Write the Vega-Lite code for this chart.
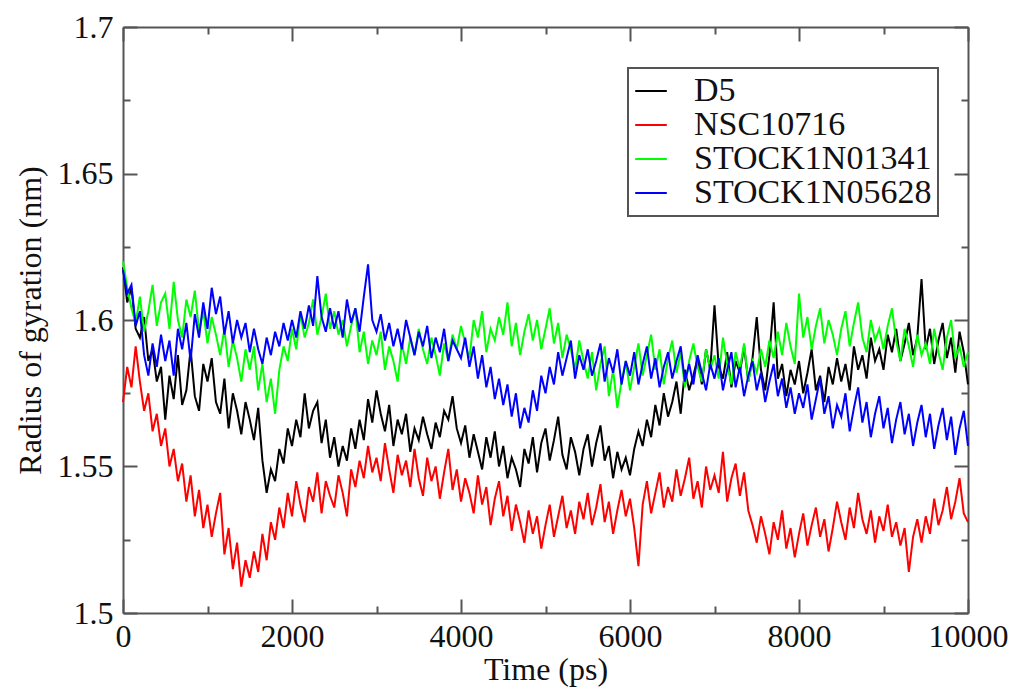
{
"$schema": "https://vega.github.io/schema/vega-lite/v6.json",
"width": 845, "height": 586,
"autosize": {"type": "none"},
"padding": {"left": 123, "top": 27, "right": 51, "bottom": 80},
"background": "white",
"config": {
  "view": {"stroke": null},
  "axis": {"domainColor": "#555", "domainWidth": 2, "tickColor": "#555", "tickWidth": 2, "grid": false,
    "labelFont": "Liberation Serif, Times New Roman, serif", "labelFontSize": 32, "labelColor": "#111",
    "titleFont": "Liberation Serif, Times New Roman, serif", "titleFontSize": 32, "titleFontWeight": "normal", "titleColor": "#111",
    "labelFlush": false, "labelOverlap": false}
},
"data": {"values": [
{"t":0,"D5":1.618,"NSC10716":1.572,"STOCK1N01341":1.620,"STOCK1N05628":1.617},
{"t":50,"D5":1.606,"NSC10716":1.584,"STOCK1N01341":1.611,"STOCK1N05628":1.609},
{"t":100,"D5":1.611,"NSC10716":1.577,"STOCK1N01341":1.604,"STOCK1N05628":1.612},
{"t":150,"D5":1.597,"NSC10716":1.591,"STOCK1N01341":1.599,"STOCK1N05628":1.598},
{"t":200,"D5":1.594,"NSC10716":1.579,"STOCK1N01341":1.608,"STOCK1N05628":1.603},
{"t":250,"D5":1.601,"NSC10716":1.569,"STOCK1N01341":1.596,"STOCK1N05628":1.588},
{"t":300,"D5":1.586,"NSC10716":1.575,"STOCK1N01341":1.603,"STOCK1N05628":1.581},
{"t":350,"D5":1.590,"NSC10716":1.562,"STOCK1N01341":1.612,"STOCK1N05628":1.592},
{"t":400,"D5":1.579,"NSC10716":1.568,"STOCK1N01341":1.598,"STOCK1N05628":1.584},
{"t":450,"D5":1.584,"NSC10716":1.557,"STOCK1N01341":1.606,"STOCK1N05628":1.595},
{"t":500,"D5":1.566,"NSC10716":1.563,"STOCK1N01341":1.609,"STOCK1N05628":1.586},
{"t":550,"D5":1.581,"NSC10716":1.550,"STOCK1N01341":1.597,"STOCK1N05628":1.593},
{"t":600,"D5":1.573,"NSC10716":1.556,"STOCK1N01341":1.613,"STOCK1N05628":1.581},
{"t":650,"D5":1.588,"NSC10716":1.545,"STOCK1N01341":1.600,"STOCK1N05628":1.597},
{"t":700,"D5":1.571,"NSC10716":1.551,"STOCK1N01341":1.594,"STOCK1N05628":1.590},
{"t":750,"D5":1.576,"NSC10716":1.538,"STOCK1N01341":1.607,"STOCK1N05628":1.599},
{"t":800,"D5":1.590,"NSC10716":1.547,"STOCK1N01341":1.601,"STOCK1N05628":1.586},
{"t":850,"D5":1.574,"NSC10716":1.533,"STOCK1N01341":1.610,"STOCK1N05628":1.602},
{"t":900,"D5":1.569,"NSC10716":1.542,"STOCK1N01341":1.596,"STOCK1N05628":1.594},
{"t":950,"D5":1.585,"NSC10716":1.529,"STOCK1N01341":1.603,"STOCK1N05628":1.606},
{"t":1000,"D5":1.579,"NSC10716":1.537,"STOCK1N01341":1.592,"STOCK1N05628":1.597},
{"t":1050,"D5":1.587,"NSC10716":1.526,"STOCK1N01341":1.601,"STOCK1N05628":1.611},
{"t":1100,"D5":1.572,"NSC10716":1.534,"STOCK1N01341":1.595,"STOCK1N05628":1.602},
{"t":1150,"D5":1.568,"NSC10716":1.541,"STOCK1N01341":1.588,"STOCK1N05628":1.608},
{"t":1200,"D5":1.580,"NSC10716":1.520,"STOCK1N01341":1.597,"STOCK1N05628":1.595},
{"t":1250,"D5":1.563,"NSC10716":1.529,"STOCK1N01341":1.584,"STOCK1N05628":1.603},
{"t":1300,"D5":1.575,"NSC10716":1.515,"STOCK1N01341":1.593,"STOCK1N05628":1.592},
{"t":1350,"D5":1.569,"NSC10716":1.524,"STOCK1N01341":1.587,"STOCK1N05628":1.600},
{"t":1400,"D5":1.561,"NSC10716":1.509,"STOCK1N01341":1.579,"STOCK1N05628":1.594},
{"t":1450,"D5":1.572,"NSC10716":1.518,"STOCK1N01341":1.590,"STOCK1N05628":1.599},
{"t":1500,"D5":1.566,"NSC10716":1.512,"STOCK1N01341":1.583,"STOCK1N05628":1.589},
{"t":1550,"D5":1.559,"NSC10716":1.521,"STOCK1N01341":1.591,"STOCK1N05628":1.597},
{"t":1600,"D5":1.570,"NSC10716":1.514,"STOCK1N01341":1.576,"STOCK1N05628":1.590},
{"t":1650,"D5":1.552,"NSC10716":1.527,"STOCK1N01341":1.585,"STOCK1N05628":1.585},
{"t":1700,"D5":1.541,"NSC10716":1.518,"STOCK1N01341":1.572,"STOCK1N05628":1.594},
{"t":1750,"D5":1.549,"NSC10716":1.531,"STOCK1N01341":1.580,"STOCK1N05628":1.588},
{"t":1800,"D5":1.545,"NSC10716":1.525,"STOCK1N01341":1.568,"STOCK1N05628":1.596},
{"t":1850,"D5":1.556,"NSC10716":1.536,"STOCK1N01341":1.583,"STOCK1N05628":1.591},
{"t":1900,"D5":1.551,"NSC10716":1.529,"STOCK1N01341":1.591,"STOCK1N05628":1.599},
{"t":1950,"D5":1.563,"NSC10716":1.541,"STOCK1N01341":1.586,"STOCK1N05628":1.593},
{"t":2000,"D5":1.557,"NSC10716":1.533,"STOCK1N01341":1.597,"STOCK1N05628":1.600},
{"t":2050,"D5":1.566,"NSC10716":1.545,"STOCK1N01341":1.590,"STOCK1N05628":1.594},
{"t":2100,"D5":1.560,"NSC10716":1.537,"STOCK1N01341":1.602,"STOCK1N05628":1.603},
{"t":2150,"D5":1.575,"NSC10716":1.531,"STOCK1N01341":1.594,"STOCK1N05628":1.597},
{"t":2200,"D5":1.563,"NSC10716":1.543,"STOCK1N01341":1.599,"STOCK1N05628":1.605},
{"t":2250,"D5":1.569,"NSC10716":1.538,"STOCK1N01341":1.607,"STOCK1N05628":1.598},
{"t":2300,"D5":1.572,"NSC10716":1.548,"STOCK1N01341":1.595,"STOCK1N05628":1.615},
{"t":2350,"D5":1.558,"NSC10716":1.534,"STOCK1N01341":1.601,"STOCK1N05628":1.601},
{"t":2400,"D5":1.566,"NSC10716":1.545,"STOCK1N01341":1.609,"STOCK1N05628":1.596},
{"t":2450,"D5":1.553,"NSC10716":1.540,"STOCK1N01341":1.597,"STOCK1N05628":1.604},
{"t":2500,"D5":1.560,"NSC10716":1.536,"STOCK1N01341":1.603,"STOCK1N05628":1.597},
{"t":2550,"D5":1.550,"NSC10716":1.547,"STOCK1N01341":1.595,"STOCK1N05628":1.603},
{"t":2600,"D5":1.557,"NSC10716":1.541,"STOCK1N01341":1.600,"STOCK1N05628":1.594},
{"t":2650,"D5":1.552,"NSC10716":1.533,"STOCK1N01341":1.591,"STOCK1N05628":1.607},
{"t":2700,"D5":1.563,"NSC10716":1.549,"STOCK1N01341":1.598,"STOCK1N05628":1.599},
{"t":2750,"D5":1.556,"NSC10716":1.543,"STOCK1N01341":1.604,"STOCK1N05628":1.604},
{"t":2800,"D5":1.566,"NSC10716":1.552,"STOCK1N01341":1.589,"STOCK1N05628":1.596},
{"t":2850,"D5":1.559,"NSC10716":1.546,"STOCK1N01341":1.596,"STOCK1N05628":1.608},
{"t":2900,"D5":1.573,"NSC10716":1.557,"STOCK1N01341":1.585,"STOCK1N05628":1.619},
{"t":2950,"D5":1.565,"NSC10716":1.548,"STOCK1N01341":1.593,"STOCK1N05628":1.600},
{"t":3000,"D5":1.576,"NSC10716":1.553,"STOCK1N01341":1.588,"STOCK1N05628":1.596},
{"t":3050,"D5":1.568,"NSC10716":1.545,"STOCK1N01341":1.596,"STOCK1N05628":1.602},
{"t":3100,"D5":1.562,"NSC10716":1.558,"STOCK1N01341":1.583,"STOCK1N05628":1.593},
{"t":3150,"D5":1.571,"NSC10716":1.549,"STOCK1N01341":1.591,"STOCK1N05628":1.599},
{"t":3200,"D5":1.557,"NSC10716":1.541,"STOCK1N01341":1.586,"STOCK1N05628":1.591},
{"t":3250,"D5":1.566,"NSC10716":1.554,"STOCK1N01341":1.579,"STOCK1N05628":1.597},
{"t":3300,"D5":1.561,"NSC10716":1.547,"STOCK1N01341":1.592,"STOCK1N05628":1.590},
{"t":3350,"D5":1.568,"NSC10716":1.552,"STOCK1N01341":1.585,"STOCK1N05628":1.600},
{"t":3400,"D5":1.555,"NSC10716":1.543,"STOCK1N01341":1.594,"STOCK1N05628":1.594},
{"t":3450,"D5":1.563,"NSC10716":1.556,"STOCK1N01341":1.588,"STOCK1N05628":1.588},
{"t":3500,"D5":1.559,"NSC10716":1.546,"STOCK1N01341":1.597,"STOCK1N05628":1.596},
{"t":3550,"D5":1.567,"NSC10716":1.540,"STOCK1N01341":1.590,"STOCK1N05628":1.591},
{"t":3600,"D5":1.561,"NSC10716":1.553,"STOCK1N01341":1.585,"STOCK1N05628":1.598},
{"t":3650,"D5":1.556,"NSC10716":1.545,"STOCK1N01341":1.594,"STOCK1N05628":1.587},
{"t":3700,"D5":1.565,"NSC10716":1.550,"STOCK1N01341":1.588,"STOCK1N05628":1.594},
{"t":3750,"D5":1.560,"NSC10716":1.539,"STOCK1N01341":1.581,"STOCK1N05628":1.589},
{"t":3800,"D5":1.569,"NSC10716":1.548,"STOCK1N01341":1.592,"STOCK1N05628":1.597},
{"t":3850,"D5":1.566,"NSC10716":1.556,"STOCK1N01341":1.586,"STOCK1N05628":1.586},
{"t":3900,"D5":1.574,"NSC10716":1.542,"STOCK1N01341":1.595,"STOCK1N05628":1.593},
{"t":3950,"D5":1.563,"NSC10716":1.549,"STOCK1N01341":1.590,"STOCK1N05628":1.590},
{"t":4000,"D5":1.558,"NSC10716":1.538,"STOCK1N01341":1.598,"STOCK1N05628":1.587},
{"t":4050,"D5":1.564,"NSC10716":1.546,"STOCK1N01341":1.592,"STOCK1N05628":1.594},
{"t":4100,"D5":1.553,"NSC10716":1.541,"STOCK1N01341":1.587,"STOCK1N05628":1.584},
{"t":4150,"D5":1.561,"NSC10716":1.534,"STOCK1N01341":1.600,"STOCK1N05628":1.591},
{"t":4200,"D5":1.555,"NSC10716":1.547,"STOCK1N01341":1.594,"STOCK1N05628":1.580},
{"t":4250,"D5":1.549,"NSC10716":1.537,"STOCK1N01341":1.603,"STOCK1N05628":1.588},
{"t":4300,"D5":1.560,"NSC10716":1.543,"STOCK1N01341":1.589,"STOCK1N05628":1.577},
{"t":4350,"D5":1.553,"NSC10716":1.530,"STOCK1N01341":1.597,"STOCK1N05628":1.584},
{"t":4400,"D5":1.562,"NSC10716":1.539,"STOCK1N01341":1.593,"STOCK1N05628":1.573},
{"t":4450,"D5":1.550,"NSC10716":1.545,"STOCK1N01341":1.601,"STOCK1N05628":1.580},
{"t":4500,"D5":1.557,"NSC10716":1.533,"STOCK1N01341":1.595,"STOCK1N05628":1.571},
{"t":4550,"D5":1.546,"NSC10716":1.540,"STOCK1N01341":1.606,"STOCK1N05628":1.578},
{"t":4600,"D5":1.553,"NSC10716":1.528,"STOCK1N01341":1.591,"STOCK1N05628":1.567},
{"t":4650,"D5":1.549,"NSC10716":1.537,"STOCK1N01341":1.599,"STOCK1N05628":1.575},
{"t":4700,"D5":1.543,"NSC10716":1.531,"STOCK1N01341":1.588,"STOCK1N05628":1.563},
{"t":4750,"D5":1.556,"NSC10716":1.524,"STOCK1N01341":1.596,"STOCK1N05628":1.570},
{"t":4800,"D5":1.551,"NSC10716":1.535,"STOCK1N01341":1.602,"STOCK1N05628":1.565},
{"t":4850,"D5":1.560,"NSC10716":1.527,"STOCK1N01341":1.593,"STOCK1N05628":1.576},
{"t":4900,"D5":1.548,"NSC10716":1.533,"STOCK1N01341":1.600,"STOCK1N05628":1.569},
{"t":4950,"D5":1.558,"NSC10716":1.522,"STOCK1N01341":1.590,"STOCK1N05628":1.581},
{"t":5000,"D5":1.563,"NSC10716":1.530,"STOCK1N01341":1.597,"STOCK1N05628":1.575},
{"t":5050,"D5":1.552,"NSC10716":1.537,"STOCK1N01341":1.604,"STOCK1N05628":1.584},
{"t":5100,"D5":1.559,"NSC10716":1.526,"STOCK1N01341":1.592,"STOCK1N05628":1.578},
{"t":5150,"D5":1.567,"NSC10716":1.533,"STOCK1N01341":1.599,"STOCK1N05628":1.589},
{"t":5200,"D5":1.554,"NSC10716":1.540,"STOCK1N01341":1.587,"STOCK1N05628":1.581},
{"t":5250,"D5":1.549,"NSC10716":1.529,"STOCK1N01341":1.595,"STOCK1N05628":1.587},
{"t":5300,"D5":1.560,"NSC10716":1.535,"STOCK1N01341":1.590,"STOCK1N05628":1.593},
{"t":5350,"D5":1.555,"NSC10716":1.527,"STOCK1N01341":1.583,"STOCK1N05628":1.580},
{"t":5400,"D5":1.547,"NSC10716":1.538,"STOCK1N01341":1.593,"STOCK1N05628":1.588},
{"t":5450,"D5":1.556,"NSC10716":1.532,"STOCK1N01341":1.586,"STOCK1N05628":1.583},
{"t":5500,"D5":1.561,"NSC10716":1.541,"STOCK1N01341":1.580,"STOCK1N05628":1.590},
{"t":5550,"D5":1.550,"NSC10716":1.530,"STOCK1N01341":1.589,"STOCK1N05628":1.581},
{"t":5600,"D5":1.558,"NSC10716":1.536,"STOCK1N01341":1.576,"STOCK1N05628":1.586},
{"t":5650,"D5":1.564,"NSC10716":1.544,"STOCK1N01341":1.585,"STOCK1N05628":1.592},
{"t":5700,"D5":1.552,"NSC10716":1.531,"STOCK1N01341":1.591,"STOCK1N05628":1.579},
{"t":5750,"D5":1.557,"NSC10716":1.538,"STOCK1N01341":1.574,"STOCK1N05628":1.587},
{"t":5800,"D5":1.546,"NSC10716":1.527,"STOCK1N01341":1.583,"STOCK1N05628":1.582},
{"t":5850,"D5":1.555,"NSC10716":1.535,"STOCK1N01341":1.570,"STOCK1N05628":1.590},
{"t":5900,"D5":1.549,"NSC10716":1.542,"STOCK1N01341":1.579,"STOCK1N05628":1.578},
{"t":5950,"D5":1.553,"NSC10716":1.533,"STOCK1N01341":1.586,"STOCK1N05628":1.586},
{"t":6000,"D5":1.547,"NSC10716":1.539,"STOCK1N01341":1.576,"STOCK1N05628":1.581},
{"t":6050,"D5":1.556,"NSC10716":1.529,"STOCK1N01341":1.584,"STOCK1N05628":1.589},
{"t":6100,"D5":1.562,"NSC10716":1.516,"STOCK1N01341":1.592,"STOCK1N05628":1.578},
{"t":6150,"D5":1.557,"NSC10716":1.537,"STOCK1N01341":1.581,"STOCK1N05628":1.585},
{"t":6200,"D5":1.566,"NSC10716":1.545,"STOCK1N01341":1.588,"STOCK1N05628":1.591},
{"t":6250,"D5":1.560,"NSC10716":1.534,"STOCK1N01341":1.595,"STOCK1N05628":1.580},
{"t":6300,"D5":1.571,"NSC10716":1.541,"STOCK1N01341":1.583,"STOCK1N05628":1.587},
{"t":6350,"D5":1.564,"NSC10716":1.548,"STOCK1N01341":1.590,"STOCK1N05628":1.577},
{"t":6400,"D5":1.575,"NSC10716":1.536,"STOCK1N01341":1.578,"STOCK1N05628":1.584},
{"t":6450,"D5":1.567,"NSC10716":1.543,"STOCK1N01341":1.587,"STOCK1N05628":1.589},
{"t":6500,"D5":1.572,"NSC10716":1.538,"STOCK1N01341":1.593,"STOCK1N05628":1.580},
{"t":6550,"D5":1.579,"NSC10716":1.549,"STOCK1N01341":1.582,"STOCK1N05628":1.586},
{"t":6600,"D5":1.568,"NSC10716":1.540,"STOCK1N01341":1.589,"STOCK1N05628":1.591},
{"t":6650,"D5":1.583,"NSC10716":1.546,"STOCK1N01341":1.577,"STOCK1N05628":1.579},
{"t":6700,"D5":1.576,"NSC10716":1.553,"STOCK1N01341":1.586,"STOCK1N05628":1.585},
{"t":6750,"D5":1.581,"NSC10716":1.539,"STOCK1N01341":1.592,"STOCK1N05628":1.578},
{"t":6800,"D5":1.587,"NSC10716":1.545,"STOCK1N01341":1.584,"STOCK1N05628":1.588},
{"t":6850,"D5":1.578,"NSC10716":1.536,"STOCK1N01341":1.579,"STOCK1N05628":1.582},
{"t":6900,"D5":1.590,"NSC10716":1.550,"STOCK1N01341":1.590,"STOCK1N05628":1.576},
{"t":6950,"D5":1.583,"NSC10716":1.542,"STOCK1N01341":1.583,"STOCK1N05628":1.585},
{"t":7000,"D5":1.605,"NSC10716":1.547,"STOCK1N01341":1.588,"STOCK1N05628":1.580},
{"t":7050,"D5":1.584,"NSC10716":1.541,"STOCK1N01341":1.580,"STOCK1N05628":1.587},
{"t":7100,"D5":1.580,"NSC10716":1.555,"STOCK1N01341":1.594,"STOCK1N05628":1.576},
{"t":7150,"D5":1.589,"NSC10716":1.538,"STOCK1N01341":1.585,"STOCK1N05628":1.583},
{"t":7200,"D5":1.577,"NSC10716":1.546,"STOCK1N01341":1.578,"STOCK1N05628":1.589},
{"t":7250,"D5":1.586,"NSC10716":1.551,"STOCK1N01341":1.589,"STOCK1N05628":1.577},
{"t":7300,"D5":1.582,"NSC10716":1.540,"STOCK1N01341":1.583,"STOCK1N05628":1.584},
{"t":7350,"D5":1.591,"NSC10716":1.548,"STOCK1N01341":1.592,"STOCK1N05628":1.574},
{"t":7400,"D5":1.579,"NSC10716":1.535,"STOCK1N01341":1.579,"STOCK1N05628":1.581},
{"t":7450,"D5":1.587,"NSC10716":1.530,"STOCK1N01341":1.586,"STOCK1N05628":1.586},
{"t":7500,"D5":1.601,"NSC10716":1.524,"STOCK1N01341":1.582,"STOCK1N05628":1.576},
{"t":7550,"D5":1.583,"NSC10716":1.533,"STOCK1N01341":1.590,"STOCK1N05628":1.582},
{"t":7600,"D5":1.576,"NSC10716":1.527,"STOCK1N01341":1.584,"STOCK1N05628":1.572},
{"t":7650,"D5":1.588,"NSC10716":1.520,"STOCK1N01341":1.593,"STOCK1N05628":1.579},
{"t":7700,"D5":1.606,"NSC10716":1.531,"STOCK1N01341":1.587,"STOCK1N05628":1.585},
{"t":7750,"D5":1.580,"NSC10716":1.525,"STOCK1N01341":1.596,"STOCK1N05628":1.574},
{"t":7800,"D5":1.585,"NSC10716":1.535,"STOCK1N01341":1.588,"STOCK1N05628":1.580},
{"t":7850,"D5":1.574,"NSC10716":1.522,"STOCK1N01341":1.599,"STOCK1N05628":1.570},
{"t":7900,"D5":1.583,"NSC10716":1.529,"STOCK1N01341":1.591,"STOCK1N05628":1.577},
{"t":7950,"D5":1.578,"NSC10716":1.519,"STOCK1N01341":1.585,"STOCK1N05628":1.568},
{"t":8000,"D5":1.586,"NSC10716":1.527,"STOCK1N01341":1.609,"STOCK1N05628":1.575},
{"t":8050,"D5":1.575,"NSC10716":1.534,"STOCK1N01341":1.594,"STOCK1N05628":1.570},
{"t":8100,"D5":1.582,"NSC10716":1.523,"STOCK1N01341":1.601,"STOCK1N05628":1.578},
{"t":8150,"D5":1.590,"NSC10716":1.530,"STOCK1N01341":1.590,"STOCK1N05628":1.566},
{"t":8200,"D5":1.576,"NSC10716":1.536,"STOCK1N01341":1.598,"STOCK1N05628":1.573},
{"t":8250,"D5":1.581,"NSC10716":1.526,"STOCK1N01341":1.604,"STOCK1N05628":1.580},
{"t":8300,"D5":1.572,"NSC10716":1.532,"STOCK1N01341":1.592,"STOCK1N05628":1.568},
{"t":8350,"D5":1.584,"NSC10716":1.521,"STOCK1N01341":1.600,"STOCK1N05628":1.574},
{"t":8400,"D5":1.578,"NSC10716":1.529,"STOCK1N01341":1.595,"STOCK1N05628":1.563},
{"t":8450,"D5":1.587,"NSC10716":1.538,"STOCK1N01341":1.588,"STOCK1N05628":1.571},
{"t":8500,"D5":1.579,"NSC10716":1.531,"STOCK1N01341":1.597,"STOCK1N05628":1.567},
{"t":8550,"D5":1.585,"NSC10716":1.525,"STOCK1N01341":1.603,"STOCK1N05628":1.575},
{"t":8600,"D5":1.576,"NSC10716":1.536,"STOCK1N01341":1.591,"STOCK1N05628":1.562},
{"t":8650,"D5":1.591,"NSC10716":1.529,"STOCK1N01341":1.599,"STOCK1N05628":1.570},
{"t":8700,"D5":1.583,"NSC10716":1.541,"STOCK1N01341":1.606,"STOCK1N05628":1.577},
{"t":8750,"D5":1.588,"NSC10716":1.532,"STOCK1N01341":1.594,"STOCK1N05628":1.565},
{"t":8800,"D5":1.580,"NSC10716":1.527,"STOCK1N01341":1.589,"STOCK1N05628":1.572},
{"t":8850,"D5":1.594,"NSC10716":1.535,"STOCK1N01341":1.600,"STOCK1N05628":1.560},
{"t":8900,"D5":1.586,"NSC10716":1.524,"STOCK1N01341":1.593,"STOCK1N05628":1.568},
{"t":8950,"D5":1.590,"NSC10716":1.533,"STOCK1N01341":1.597,"STOCK1N05628":1.574},
{"t":9000,"D5":1.583,"NSC10716":1.528,"STOCK1N01341":1.590,"STOCK1N05628":1.563},
{"t":9050,"D5":1.595,"NSC10716":1.537,"STOCK1N01341":1.598,"STOCK1N05628":1.570},
{"t":9100,"D5":1.589,"NSC10716":1.526,"STOCK1N01341":1.604,"STOCK1N05628":1.558},
{"t":9150,"D5":1.597,"NSC10716":1.531,"STOCK1N01341":1.593,"STOCK1N05628":1.566},
{"t":9200,"D5":1.586,"NSC10716":1.523,"STOCK1N01341":1.586,"STOCK1N05628":1.572},
{"t":9250,"D5":1.592,"NSC10716":1.529,"STOCK1N01341":1.597,"STOCK1N05628":1.561},
{"t":9300,"D5":1.599,"NSC10716":1.514,"STOCK1N01341":1.591,"STOCK1N05628":1.568},
{"t":9350,"D5":1.588,"NSC10716":1.526,"STOCK1N01341":1.584,"STOCK1N05628":1.557},
{"t":9400,"D5":1.594,"NSC10716":1.532,"STOCK1N01341":1.595,"STOCK1N05628":1.565},
{"t":9450,"D5":1.614,"NSC10716":1.524,"STOCK1N01341":1.588,"STOCK1N05628":1.571},
{"t":9500,"D5":1.590,"NSC10716":1.533,"STOCK1N01341":1.592,"STOCK1N05628":1.560},
{"t":9550,"D5":1.597,"NSC10716":1.527,"STOCK1N01341":1.585,"STOCK1N05628":1.568},
{"t":9600,"D5":1.585,"NSC10716":1.539,"STOCK1N01341":1.597,"STOCK1N05628":1.556},
{"t":9650,"D5":1.593,"NSC10716":1.530,"STOCK1N01341":1.589,"STOCK1N05628":1.564},
{"t":9700,"D5":1.599,"NSC10716":1.535,"STOCK1N01341":1.583,"STOCK1N05628":1.570},
{"t":9750,"D5":1.587,"NSC10716":1.543,"STOCK1N01341":1.594,"STOCK1N05628":1.559},
{"t":9800,"D5":1.594,"NSC10716":1.532,"STOCK1N01341":1.600,"STOCK1N05628":1.567},
{"t":9850,"D5":1.582,"NSC10716":1.538,"STOCK1N01341":1.587,"STOCK1N05628":1.554},
{"t":9900,"D5":1.596,"NSC10716":1.546,"STOCK1N01341":1.591,"STOCK1N05628":1.563},
{"t":9950,"D5":1.589,"NSC10716":1.534,"STOCK1N01341":1.584,"STOCK1N05628":1.569},
{"t":10000,"D5":1.578,"NSC10716":1.531,"STOCK1N01341":1.589,"STOCK1N05628":1.557}
]},
"transform": [{"fold": ["D5", "NSC10716", "STOCK1N01341", "STOCK1N05628"], "as": ["series", "rg"]}],
"layer": [
  {
    "mark": {"type": "line", "strokeWidth": 2},
    "encoding": {
      "x": {"field": "t", "type": "quantitative", "scale": {"domain": [0, 10000], "nice": false, "zero": false},
        "axis": {"orient": "bottom", "values": [0, 2000, 4000, 6000, 8000, 10000], "format": "d", "tickSize": -14, "labelPadding": 22, "title": "Time (ps)", "titlePadding": 2}},
      "y": {"field": "rg", "type": "quantitative", "scale": {"domain": [1.5, 1.7], "nice": false, "zero": false},
        "axis": {"orient": "left", "values": [1.5, 1.55, 1.6, 1.65, 1.7], "format": "~g", "tickSize": -14, "labelPadding": 24, "title": "Radius of gyration (nm)", "titlePadding": 10}},
      "color": {"field": "series", "type": "nominal",
        "scale": {"domain": ["D5", "NSC10716", "STOCK1N01341", "STOCK1N05628"], "range": ["#000000", "#ff0000", "#00ff00", "#0000ff"]},
        "legend": {"orient": "none", "legendX": 505, "legendY": 41, "title": null, "direction": "vertical",
          "strokeColor": "#555", "fillColor": "white", "padding": 6, "cornerRadius": 0,
          "symbolType": "stroke", "symbolSize": 1000, "symbolStrokeWidth": 2,
          "labelFont": "Liberation Serif, Times New Roman, serif", "labelFontSize": 34, "labelColor": "#111", "labelOffset": 26, "rowPadding": 0, "labelLimit": 400,
          "encode": {"legend": {"update": {"strokeWidth": {"value": 2}}}}}}
    }
  },
  {
    "mark": {"type": "point", "opacity": 0},
    "encoding": {
      "x": {"field": "t", "type": "quantitative", "axis": {"orient": "top", "values": [0, 2000, 4000, 6000, 8000, 10000], "labels": false, "title": null, "tickSize": -14}},
      "y": {"field": "rg", "type": "quantitative", "axis": {"orient": "right", "values": [1.5, 1.55, 1.6, 1.65, 1.7], "labels": false, "title": null, "tickSize": -14}}
    }
  },
  {
    "mark": {"type": "point", "opacity": 0},
    "encoding": {
      "x": {"field": "t", "type": "quantitative", "axis": {"orient": "bottom", "values": [1000, 3000, 5000, 7000, 9000], "labels": false, "title": null, "domain": false, "tickSize": -7}},
      "y": {"field": "rg", "type": "quantitative", "axis": {"orient": "left", "values": [1.525, 1.575, 1.625, 1.675], "labels": false, "title": null, "domain": false, "tickSize": -7}}
    }
  },
  {
    "mark": {"type": "point", "opacity": 0},
    "encoding": {
      "x": {"field": "t", "type": "quantitative", "axis": {"orient": "top", "values": [1000, 3000, 5000, 7000, 9000], "labels": false, "title": null, "domain": false, "tickSize": -7}},
      "y": {"field": "rg", "type": "quantitative", "axis": {"orient": "right", "values": [1.525, 1.575, 1.625, 1.675], "labels": false, "title": null, "domain": false, "tickSize": -7}}
    }
  }
],
"resolve": {"axis": {"x": "independent", "y": "independent"}}
}
